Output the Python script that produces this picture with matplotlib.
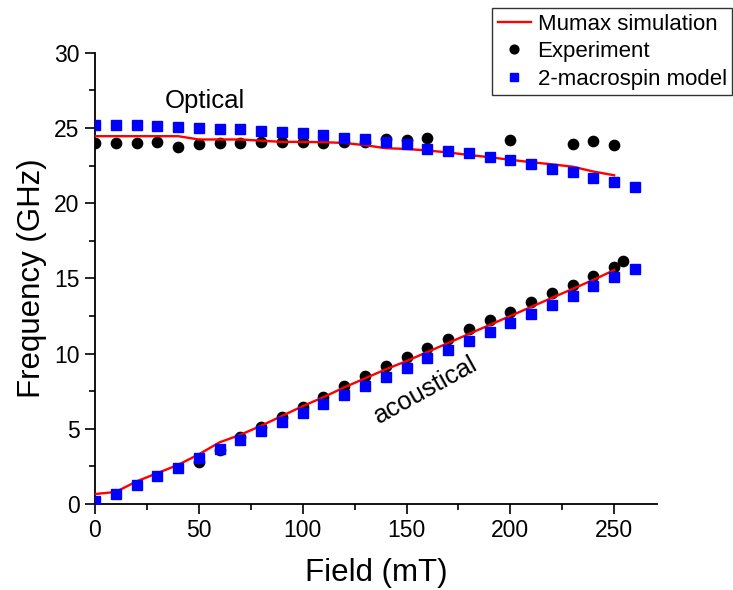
import matplotlib
matplotlib.use("Agg")
import matplotlib.pyplot as plt
from matplotlib.ticker import MultipleLocator

plt.rcParams["font.family"] = ["Liberation Sans", "DejaVu Sans"]

# ---------- datos ----------
# Mumax (línea roja)
field_sim = [0, 10, 20, 30, 40, 50, 60, 70, 80, 90, 100, 110, 120, 130,
             140, 150, 160, 170, 180, 190, 200, 210, 220, 230, 240, 250]
sim_opt = [24.45, 24.45, 24.45, 24.45, 24.45, 24.23, 24.23, 24.23, 24.15, 24.07,
           24.07, 24.05, 24.0, 23.85, 23.65, 23.6, 23.5, 23.37, 23.2, 23.05,
           22.88, 22.72, 22.58, 22.42, 22.1, 21.85]
sim_ac = [0.66, 0.8, 1.5, 2.05, 2.6, 3.3, 4.1, 4.6, 5.2, 5.85, 6.5, 7.1, 7.75,
          8.35, 8.95, 9.5, 10.1, 10.7, 11.3, 11.9, 12.5, 13.1, 13.7, 14.3, 14.9, 15.55]

# Experimento (círculos negros)
field_exp_opt = [0, 10, 20, 30, 40, 50, 60, 70, 80, 90, 100, 110, 120, 130,
                 140, 150, 160, 200, 230, 240, 250]
exp_opt = [23.97, 23.97, 23.97, 24.07, 23.74, 23.92, 23.97, 23.97, 24.03, 24.03,
           24.03, 24.0, 24.07, 24.07, 24.23, 24.19, 24.3, 24.2, 23.93, 24.13, 23.87]
field_exp_ac = [50, 60, 70, 80, 90, 100, 110, 120, 130, 140, 150, 160, 170,
                180, 190, 200, 210, 220, 230, 240, 250, 254]
exp_ac = [2.77, 3.6, 4.47, 5.14, 5.8, 6.47, 7.13, 7.84, 8.5, 9.17, 9.75, 10.37,
          10.98, 11.6, 12.2, 12.78, 13.44, 14.0, 14.55, 15.15, 15.73, 16.15]

# Modelo 2-macrospin (cuadrados azules)
field_mod = [0, 10, 20, 30, 40, 50, 60, 70, 80, 90, 100, 110, 120, 130,
             140, 150, 160, 170, 180, 190, 200, 210, 220, 230, 240, 250, 260]
mod_opt = [25.18, 25.18, 25.18, 25.13, 25.07, 25.0, 24.96, 24.9, 24.8, 24.7,
           24.63, 24.52, 24.34, 24.23, 24.07, 23.9, 23.63, 23.48, 23.3, 23.08,
           22.86, 22.57, 22.3, 22.04, 21.7, 21.42, 21.04]
mod_ac = [0.2, 0.66, 1.26, 1.86, 2.41, 3.08, 3.65, 4.25, 4.87, 5.47, 6.07, 6.64,
          7.22, 7.86, 8.46, 9.02, 9.68, 10.23, 10.83, 11.45, 12.05, 12.62, 13.22,
          13.82, 14.46, 15.06, 15.6]

fig = plt.figure(figsize=(7.33, 5.9), dpi=100)
ax = fig.add_axes([0.1296, 0.1458, 0.7664, 0.7649])

C_RED = "#ff0000"
C_BLUE = "#0000ff"

# círculos
ax.plot(field_exp_opt, exp_opt, "o", color="black", ms=7.4, zorder=2, label="Experiment")
ax.plot(field_exp_ac, exp_ac, "o", color="black", ms=7.4, zorder=2)
# línea
ax.plot(field_sim, sim_opt, "-", color=C_RED, lw=1.7, zorder=3, label="Mumax simulation")
ax.plot(field_sim, sim_ac, "-", color=C_RED, lw=1.7, zorder=3)
# cuadrados
ax.plot(field_mod, mod_opt, "s", color=C_BLUE, ms=6.6, zorder=4, label="2-macrospin model")
ax.plot(field_mod, mod_ac, "s", color=C_BLUE, ms=6.6, zorder=4)

ax.set_xlim(0, 270.5)
ax.set_ylim(0, 30)
ax.xaxis.set_major_locator(MultipleLocator(50))
ax.xaxis.set_minor_locator(MultipleLocator(25))
ax.yaxis.set_major_locator(MultipleLocator(5))
ax.yaxis.set_minor_locator(MultipleLocator(2.5))

for s in ("top", "right"):
    ax.spines[s].set_visible(False)
for s in ("left", "bottom"):
    ax.spines[s].set_linewidth(1.3)
ax.tick_params(which="major", direction="out", length=7, width=1.2, labelsize=16.5, pad=4)
ax.tick_params(which="minor", direction="out", length=4, width=1.2)

ax.set_xlabel("Field (mT)", fontsize=22.5, labelpad=11)
ax.set_ylabel("Frequency (GHz)", fontsize=22.5, labelpad=5)

ax.text(53, 26.8, "Optical", fontsize=18.5, ha="center", va="center")
ax.text(159, 7.6, "acoustical", fontsize=18.5, ha="center", va="center", rotation=29)

h, l = ax.get_legend_handles_labels()
order = [1, 0, 2]
leg = fig.legend([h[i] for i in order], [l[i] for i in order],
                 loc="upper left", bbox_to_anchor=(492 / 733, 1 - 8 / 590),
                 fontsize=16, frameon=True, fancybox=False, edgecolor="black",
                 handlelength=1.5, handletextpad=0.3, borderpad=0.25,
                 labelspacing=0.3, borderaxespad=0, markerscale=0.85)
leg.get_frame().set_linewidth(1.0)

fig.savefig("out.png", dpi=100)
